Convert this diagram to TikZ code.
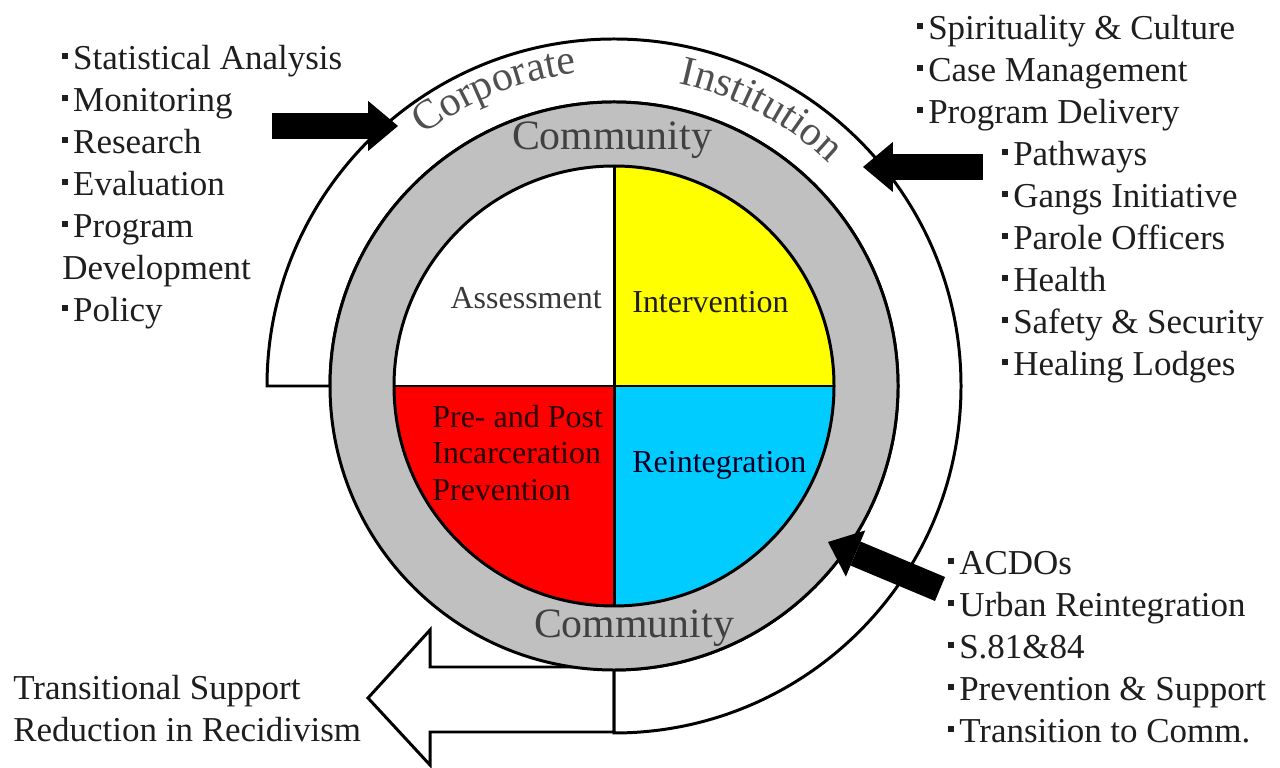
\documentclass[tikz,border=0pt]{standalone}
\usepackage{fontspec}
\setmainfont{Liberation Serif}
\usepackage{graphicx}
\usetikzlibrary{arrows.meta,calc,decorations.text}
\definecolor{ringgray}{HTML}{C0C0C0}
\definecolor{qyellow}{HTML}{FFFF00}
\definecolor{qred}{HTML}{FF0000}
\definecolor{qcyan}{HTML}{00CCFF}
\definecolor{txtdark}{HTML}{1E1E1E}
\definecolor{txtgray}{HTML}{505050}
\newcommand\bul{\raisebox{6pt}{\rule{3.2pt}{3.2pt}}\kern3pt}
\newcommand\listfont{\fontsize{19.9pt}{23.9pt}\selectfont}
\newcommand\quadfont{\fontsize{18.2pt}{21pt}\selectfont}
\newcommand\ringfont{\fontsize{23.8pt}{28pt}\selectfont}
\begin{document}
\begin{tikzpicture}[x=0.02cm,y=0.02cm,
  outline/.style={draw=black,line width=1.7pt},
  lst/.style={anchor=north west,inner sep=0pt,align=left,font=\listfont,text=txtdark},
  quad/.style={inner sep=0pt,font=\quadfont,text=txtdark},
  ringlbl/.style={inner sep=0pt,font=\ringfont,text=txtgray!80!black},
  blkarrow/.style={line width=14.8pt,-{Triangle[length=17pt,width=28.5pt,line width=0pt]}}]
\useasboundingbox (0,0) rectangle (1280,767);
\fill[white] (0,0) rectangle (1280,767);
\coordinate (C) at (614,381);
% hollow arrow
\coordinate (h1) at (614,100);
\coordinate (h2) at (430,100);
\coordinate (h3) at (430,137);
\coordinate (h4) at (368,69);
\coordinate (h5) at (430,2);
\coordinate (h6) at (430,35);
\coordinate (h7) at (614,35);
\draw[outline,fill=white,line join=miter] (h1) -- (h2) -- (h3) -- (h4) -- (h5) -- (h6) -- (h7) -- cycle;
% outer band
\draw[outline,fill=white] ($(C)+(180:347)$) arc[start angle=180,end angle=-90,radius=347]
   -- ($(C)+(-90:284)$) arc[start angle=-90,end angle=180,radius=284] -- cycle;
% gray ring
\draw[outline,fill=ringgray] (C) circle[radius=284];
% quadrants
\fill[white] (C) -- ++(0,220) arc[start angle=90,end angle=180,radius=220] -- cycle;
\fill[qyellow] (C) -- ++(220,0) arc[start angle=0,end angle=90,radius=220] -- cycle;
\fill[qred] (C) -- ++(-220,0) arc[start angle=180,end angle=270,radius=220] -- cycle;
\fill[qcyan] (C) -- ++(0,-220) arc[start angle=270,end angle=360,radius=220] -- cycle;
\draw[outline] (C) circle[radius=220];
\coordinate (qt) at ($(C)+(0,220)$);
\coordinate (qb) at ($(C)+(0,-220)$);
\coordinate (ql) at ($(C)+(-220,0)$);
\coordinate (qr) at ($(C)+(220,0)$);
\draw[outline] (qt) -- (qb);
\draw[outline] (ql) -- (qr);
% quadrant labels
\node[quad,anchor=east,text=txtgray!70!black] (assess) at (602,469) {Assessment};
\node[quad,anchor=west] (interv) at (632,465) {Intervention};
\node[quad,anchor=west,text=black!85!blue] (reint) at (632,302) {Reintegration};
\node[quad,anchor=west,align=left,text=black!85!red] (prepost) at (432,314) {Pre- and Post\\Incarceration\\Prevention};
% community labels
\node[ringlbl] (commtop) at (612,627) {Community};
\node[ringlbl] (commbot) at (634,139) {Community};
% curved labels
\path[decorate,decoration={text along path,text={|\ringfont|Corporate},text align=center,text color=txtgray}]
  ($(C)+(152:315)$) arc[start angle=152,end angle=72,radius=315];
\path[decorate,decoration={text along path,text={|\ringfont|Institution},text align=center,text color=txtgray}]
  ($(C)+(102:309)$) arc[start angle=102,end angle=22,radius=309];
% black arrows
\coordinate (a1s) at (272,641);
\coordinate (a1e) at (398,641);
\coordinate (a2s) at (983,600);
\coordinate (a2e) at (863,600);
\coordinate (a3s) at (940,178);
\coordinate (a3e) at (828,225);
\draw[blkarrow] (a1s) -- (a1e);
\draw[blkarrow] (a2s) -- (a2e);
\draw[blkarrow] (a3s) -- (a3e);
% lists
\node[lst] (corp) at (62,722) {\bul Statistical Analysis\\\bul Monitoring\\\bul Research\\\bul Evaluation\\\bul Program\\Development\\\bul Policy};
\node[lst] (inst) at (917,752) {\bul Spirituality \& Culture\\\bul Case Management\\\bul Program Delivery};
\node[lst] (prog) at (1002,626) {\bul Pathways\\\bul Gangs Initiative\\\bul Parole Officers\\\bul Health\\\bul Safety \& Security\\\bul Healing Lodges};
\node[lst] (reintl) at (948,216) {\bul ACDOs\\\bul Urban Reintegration\\\bul S.81\&84\\\bul Prevention \& Support\\\bul Transition to Comm.};
\node[lst] (trans) at (13,92) {Transitional Support\\Reduction in Recidivism};
\end{tikzpicture}
\end{document}
